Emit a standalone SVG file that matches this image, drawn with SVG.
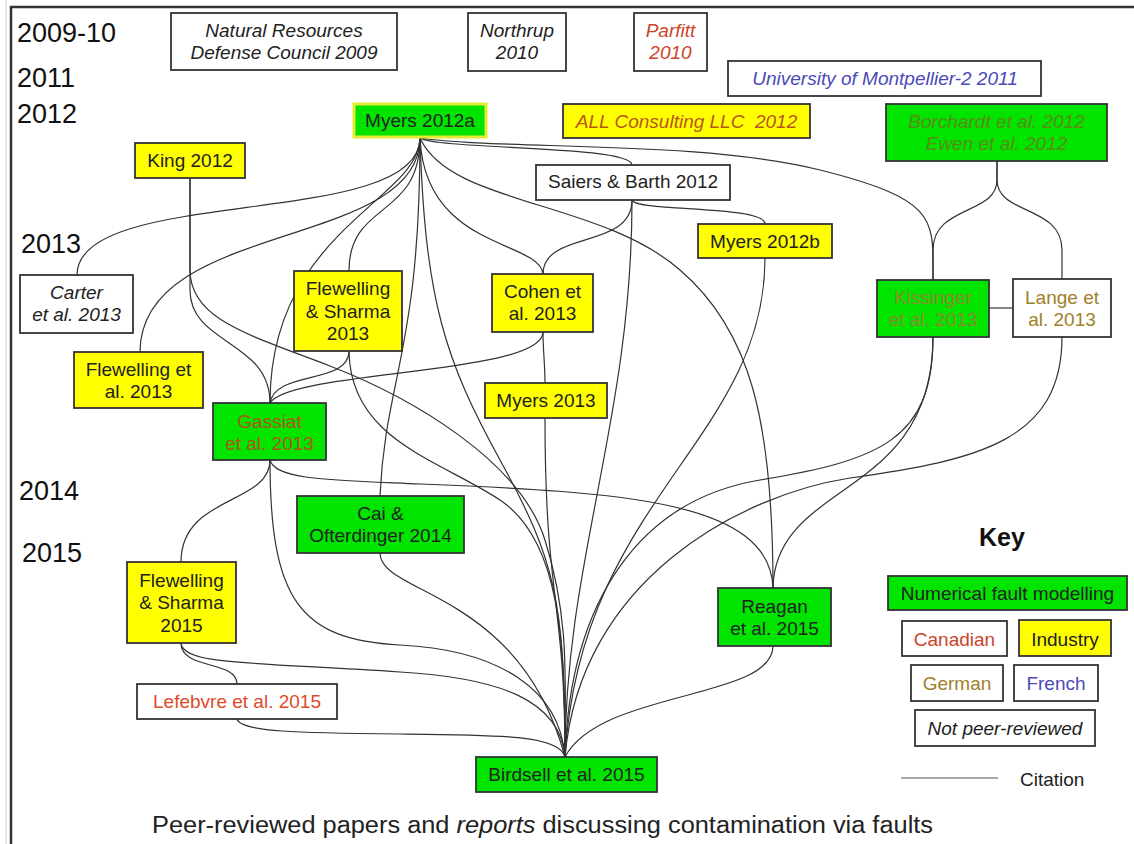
<svg xmlns="http://www.w3.org/2000/svg" width="1134" height="844" viewBox="0 0 1134 844">
<style>
text{font-family:"Liberation Sans",Arial,sans-serif;font-size:19px;fill:#222;text-anchor:middle}
.yr{font-size:27px;text-anchor:start;fill:#111}
.it{font-style:italic}
.g{fill:#00e400;stroke:#333;stroke-width:1.8}
.y{fill:#ffff00;stroke:#333;stroke-width:1.8}
.w{fill:#fff;stroke:#333;stroke-width:1.8}
.can{fill:#c8452a}
.ger{fill:#a0802a}
.fr{fill:#4a4ab8}
.ind{fill:#b8561a}
#edges path{fill:none;stroke:#333;stroke-width:1.2}
</style>
<rect width="1134" height="844" fill="#fff"/>
<g id="frame">
<line x1="6" y1="0" x2="6" y2="844" stroke="#ccc" stroke-width="1"/>
<line x1="11" y1="6" x2="11" y2="844" stroke="#333" stroke-width="2.5"/>
<line x1="10" y1="7" x2="1134" y2="7" stroke="#333" stroke-width="2.5"/>
</g>
<g id="years">
<text class="yr" x="17" y="42">2009-10</text>
<text class="yr" x="17" y="87">2011</text>
<text class="yr" x="17" y="123">2012</text>
<text class="yr" x="21" y="253">2013</text>
<text class="yr" x="19" y="500">2014</text>
<text class="yr" x="22" y="562">2015</text>
</g>
<g id="edges">
<path d="M420,138 C420,230 77,185 77,275"/>
<path d="M420,138 C420,250 140,220 140,352"/>
<path d="M420,138 C420,200 270,230 270,403"/>
<path d="M420,138 C420,220 349,200 349,271"/>
<path d="M420,138 C420,350 385,380 380,496"/>
<path d="M420,138 C425,300 445,360 500,460 S565,600 565,757"/>
<path d="M420,138 C425,250 540,240 543,274"/>
<path d="M420,138 C450,205 600,200 680,270 C750,330 773,420 773,588"/>
<path d="M420,138 C440,150 630,145 632,165"/>
<path d="M420,138 C500,150 700,140 820,170 S933,220 933,280"/>
<path d="M632,200 C632,250 543,230 543,274"/>
<path d="M632,200 C632,420 565,560 565,757"/>
<path d="M632,200 C635,212 765,205 765,224"/>
<path d="M765,258 C765,440 580,500 565,757"/>
<path d="M543,332 C543,375 290,370 270,403"/>
<path d="M543,332 C543,350 545,365 545,383"/>
<path d="M545,418 C545,600 565,600 565,757"/>
<path d="M349,351 C349,385 275,370 270,403"/>
<path d="M349,351 C350,440 440,460 500,500 S565,640 565,757"/>
<path d="M190,178 L190,290 C190,345 270,340 270,403"/>
<path d="M190,178 L190,270 C190,320 250,335 330,366 C410,397 520,460 545,540 S565,680 565,757"/>
<path d="M270,460 C275,480 330,480 420,484 C620,492 770,500 773,588"/>
<path d="M270,460 C270,505 181,495 181,562"/>
<path d="M270,460 C270,600 300,640 400,645 C500,650 560,690 565,757"/>
<path d="M181,643 C181,670 237,660 237,684"/>
<path d="M181,643 C183,665 250,662 400,672 C500,678 560,700 565,757"/>
<path d="M237,719 C240,732 300,733 400,734 C500,735 560,735 565,757"/>
<path d="M380,553 C380,595 520,590 565,757"/>
<path d="M773,646 C773,700 600,690 565,757"/>
<path d="M933,337 C933,500 775,480 773,588"/>
<path d="M933,337 C933,440 880,460 760,480 C640,500 570,600 565,757"/>
<path d="M1062,337 C1062,440 980,460 850,478 C740,495 580,580 565,757"/>
<path d="M997,161 L997,180 C997,215 933,205 933,250 L933,280"/>
<path d="M997,161 L997,180 C997,215 1062,205 1062,250 L1062,279"/>
<path d="M989,308 L1013,308"/>
</g>
<g id="nrdc"><rect class="w" x="171" y="13" width="226" height="57"/><text class="it" x="284" y="37">Natural Resources</text><text class="it" x="284" y="59">Defense Council 2009</text></g>
<g id="northrup"><rect class="w" x="468" y="13" width="98" height="58"/><text class="it" x="517" y="37">Northrup</text><text class="it" x="517" y="59">2010</text></g>
<g id="parfitt"><rect class="w" x="634" y="13" width="73" height="58"/><text class="it can" x="670.5" y="37">Parfitt</text><text class="it can" x="670.5" y="59">2010</text></g>
<g id="montpellier"><rect class="w" x="728" y="61" width="313" height="35"/><text class="it fr" x="885" y="85">University of Montpellier-2 2011</text></g>
<g id="allconsulting"><rect class="y" x="563" y="104" width="247" height="34"/><text class="it ind" x="686.5" y="128" style="white-space:pre">ALL Consulting LLC  2012</text></g>
<g id="borchardt"><rect class="g" x="886" y="104" width="221" height="57"/><text class="it" x="996.5" y="128" style="fill:#5a8c14">Borchardt et al. 2012</text><text class="it" x="996.5" y="150" style="fill:#5a8c14">Ewen et al. 2012</text></g>
<g id="myers2012a"><rect x="354" y="104" width="132" height="33" fill="#00e400" stroke="#e4ec30" stroke-width="3"/><text x="420" y="127">Myers 2012a</text></g>
<g id="king"><rect class="y" x="135" y="143" width="110" height="35"/><text x="190" y="167">King 2012</text></g>
<g id="saiers"><rect class="w" x="536" y="165" width="194" height="35"/><text x="633" y="188">Saiers &amp; Barth 2012</text></g>
<g id="myers2012b"><rect class="y" x="698" y="224" width="134" height="34"/><text x="765" y="248">Myers 2012b</text></g>
<g id="carter"><rect class="w" x="20" y="275" width="113" height="58"/><text class="it" x="76.5" y="299">Carter</text><text class="it" x="76.5" y="321">et al. 2013</text></g>
<g id="flewsharma2013"><rect class="y" x="294" y="271" width="108" height="80"/><text x="348" y="295">Flewelling</text><text x="348" y="317.5">&amp; Sharma</text><text x="348" y="340">2013</text></g>
<g id="flewetal"><rect class="y" x="74" y="352" width="129" height="56"/><text x="138.5" y="376">Flewelling et</text><text x="138.5" y="398">al. 2013</text></g>
<g id="gassiat"><rect class="g" x="213" y="403" width="113" height="57"/><text x="269.5" y="428" style="fill:#b0541a">Gassiat</text><text x="269.5" y="450" style="fill:#b0541a">et al. 2013</text></g>
<g id="cohen"><rect class="y" x="492" y="274" width="101" height="58"/><text x="542.5" y="298">Cohen et</text><text x="542.5" y="320">al. 2013</text></g>
<g id="myers2013"><rect class="y" x="485" y="383" width="122" height="35"/><text x="546" y="407">Myers 2013</text></g>
<g id="kissinger"><rect class="g" x="877" y="280" width="112" height="57"/><text x="933" y="304" style="fill:#8c8a2a">Kissinger</text><text x="933" y="326" style="fill:#8c8a2a">et al. 2013</text></g>
<g id="lange"><rect class="w" x="1013" y="279" width="98" height="58"/><text class="ger" x="1062" y="304">Lange et</text><text class="ger" x="1062" y="326">al. 2013</text></g>
<g id="cai"><rect class="g" x="297" y="496" width="167" height="57"/><text x="380.5" y="520">Cai &amp;</text><text x="380.5" y="542">Ofterdinger 2014</text></g>
<g id="flewsharma2015"><rect class="y" x="127" y="562" width="109" height="81"/><text x="181.5" y="587">Flewelling</text><text x="181.5" y="609">&amp; Sharma</text><text x="181.5" y="632">2015</text></g>
<g id="lefebvre"><rect class="w" x="137" y="684" width="200" height="35"/><text x="237" y="708" style="fill:#e04a2a">Lefebvre et al. 2015</text></g>
<g id="reagan"><rect class="g" x="718" y="588" width="113" height="58"/><text x="774.5" y="613">Reagan</text><text x="774.5" y="635">et al. 2015</text></g>
<g id="birdsell"><rect class="g" x="476" y="757" width="181" height="35"/><text x="566.5" y="781">Birdsell et al. 2015</text></g>
<g id="key">
<text x="1002" y="546" style="font-size:25px;font-weight:bold;fill:#111">Key</text>
<rect class="g" x="888" y="576" width="239" height="34"/><text x="1007.5" y="600">Numerical fault modelling</text>
<rect class="w" x="902" y="621" width="105" height="35"/><text class="can" x="954.5" y="646">Canadian</text>
<rect class="y" x="1019" y="620" width="92" height="36"/><text x="1065" y="646">Industry</text>
<rect class="w" x="911" y="665" width="92" height="36"/><text class="ger" x="957" y="690">German</text>
<rect class="w" x="1014" y="665" width="84" height="36"/><text class="fr" x="1056" y="690">French</text>
<rect class="w" x="915" y="710" width="180" height="36"/><text class="it" x="1005" y="735">Not peer-reviewed</text>
<line x1="901" y1="778" x2="998" y2="778" stroke="#555" stroke-width="1.2"/>
<text x="1020" y="786" style="text-anchor:start">Citation</text>
</g>
<g id="caption"><text x="152" y="833" textLength="781" lengthAdjust="spacingAndGlyphs" style="text-anchor:start;font-size:23.5px">Peer-reviewed papers and <tspan font-style="italic">reports</tspan> discussing contamination via faults</text></g>
</svg>
